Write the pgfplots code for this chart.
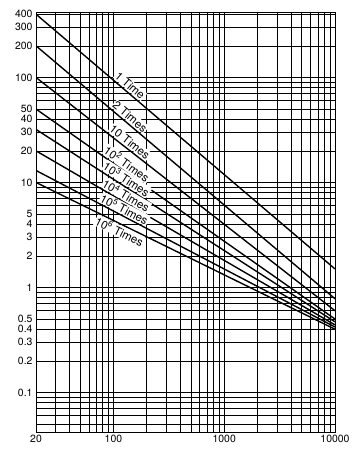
\documentclass[border=0pt]{standalone}
\usepackage{fontspec}
\setmainfont{TeX Gyre Heros}
\usepackage{pgfplots}
\pgfplotsset{compat=1.18}
\tikzset{lbl/.style={sloped, inner sep=0.7pt, fill=white, font=\fontsize{11.5}{13}\selectfont}}
\begin{document}
\begin{tikzpicture}
\useasboundingbox (-36bp,-18bp) rectangle (319bp,432bp);
\begin{axis}[
  at={(0,0)}, anchor=south west,
  scale only axis, width=299bp, height=420bp,
  xmode=log, ymode=log,
  xmin=20, xmax=10000, ymin=0.042, ymax=420,
  xtick={20,100,1000,10000}, xticklabels={20,100,1000,10000},
  minor xtick={30,40,50,60,70,80,90,200,300,400,500,600,700,800,900,2000,3000,4000,5000,6000,7000,8000,9000},
  ytick={0.1,0.2,0.3,0.4,0.5,1,2,3,4,5,10,20,30,40,50,100,200,300,400},
  yticklabels={0.1,0.2,0.3,0.4,0.5,1,2,3,4,5,10,20,30,40,50,100,200,300,400},
  minor ytick={0.05,0.06,0.07,0.08,0.09,0.6,0.7,0.8,0.9,6,7,8,9,60,70,80,90},
  grid=both,
  major grid style={black, line width=0.65pt},
  minor grid style={black, line width=0.65pt},
  major tick length=0pt, minor tick length=0pt,
  axis line style={black, line width=0.7pt},
  ticklabel style={font=\fontsize{10.5}{12}\selectfont},
]
\addplot[black, line width=1.4pt, mark=none] coordinates {(20,400) (10000,1.5)} node[pos=0.30, lbl, above=1pt] {1 Time};
\addplot[black, line width=1.4pt, mark=none] coordinates {(20,200) (10000,0.78)} node[pos=0.30, lbl, above=1pt] {2 Times};
\addplot[black, line width=1.4pt, mark=none] coordinates {(20,100) (10000,0.6)} node[pos=0.30, lbl, above=1pt] {10 Times};
\addplot[black, line width=1.4pt, mark=none] coordinates {(20,50) (10000,0.5)} node[pos=0.29, lbl, above=1pt] {10\textsuperscript{2} Times};
\addplot[black, line width=1.4pt, mark=none] coordinates {(20,32) (10000,0.47)} node[pos=0.29, lbl, above=1pt] {10\textsuperscript{3} Times};
\addplot[black, line width=1.4pt, mark=none] coordinates {(20,20) (10000,0.44)} node[pos=0.29, lbl, above=0.5pt] {10\textsuperscript{4} Times};
\addplot[black, line width=1.4pt, mark=none] coordinates {(20,13) (10000,0.42)} node[pos=0.285, lbl, above=0.5pt] {10\textsuperscript{5} Times};
\addplot[black, line width=1.4pt, mark=none] coordinates {(20,10) (10000,0.40)} node[pos=0.29, lbl, below=0.5pt] {10\textsuperscript{6} Times};
\end{axis}
\end{tikzpicture}
\end{document}
